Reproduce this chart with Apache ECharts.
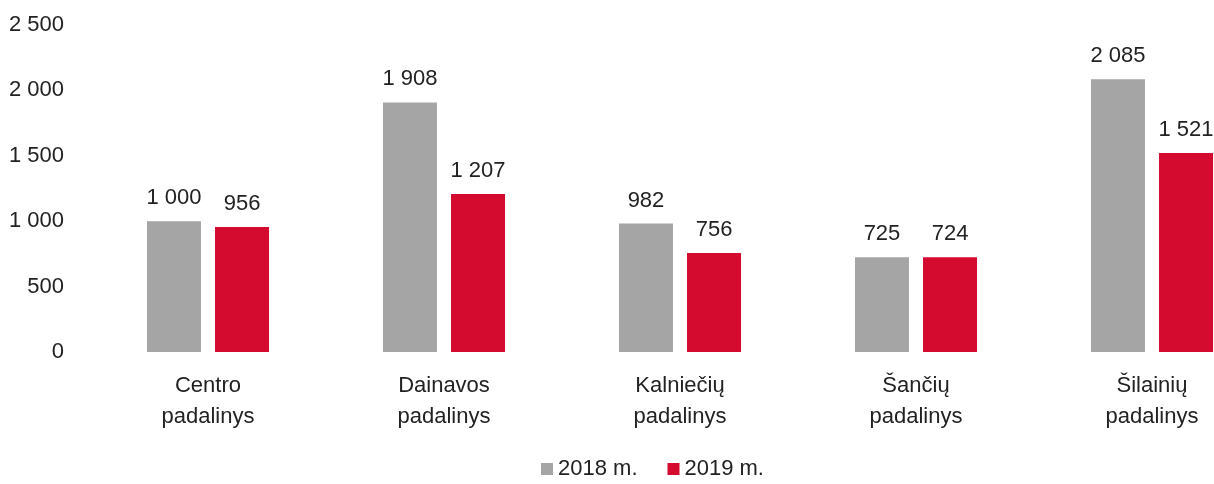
<!DOCTYPE html>
<html>
<head>
<meta charset="utf-8">
<script src="https://cdn.jsdelivr.net/npm/echarts@6/dist/echarts.min.js"></script>
<style>
    html, body { margin: 0; padding: 0; background: #fff; }
    #chart { width: 1214px; height: 484px; }
</style>
</head>
<body>
<div id="chart"></div>
<script>
const categories = [
    'Centro\npadalinys',
    'Dainavos\npadalinys',
    'Kalniečių\npadalinys',
    'Šančių\npadalinys',
    'Šilainių\npadalinys',
];
const values2018 = [1000, 1908, 982, 725, 2085];
const values2019 = [956, 1207, 756, 724, 1521];
const seriesNames = ['2018 m.', '2019 m.'];

const font = 'Liberation Sans, Arial, sans-serif';
const fmt = v => String(v).replace(/\B(?=(\d{3})+(?!\d))/g, ' ');

const chart = echarts.init(document.getElementById('chart'), null, {renderer: 'canvas'});

const barCommon = {
    type: 'bar',
    barWidth: 54,
    barGap: '26%',
    animation: false,
    label: {
        show: true,
        position: 'top',
        distance: 12,
        color: '#222',
        fontFamily: font,
        fontSize: 22,
        formatter: p => fmt(p.value),
    },
};

chart.setOption({
    // the right-hand category runs past the edge of the picture, as in the scan
    grid: {left: 90, top: 25, width: 1180, height: 327, outerBoundsMode: 'none'},
    legend: {
        top: 453,
        left: 536,
        itemWidth: 12,
        itemHeight: 12,
        itemGap: 30,
        icon: 'rect',
        textStyle: {fontFamily: font, fontSize: 22, color: '#222'},
        data: seriesNames,
    },
    xAxis: {
        type: 'category',
        data: categories,
        axisLine: {show: false},
        axisTick: {show: false},
        axisLabel: {
            fontFamily: font,
            fontSize: 22,
            color: '#222',
            lineHeight: 31,
            margin: 18,
        },
    },
    yAxis: {
        type: 'value',
        min: 0,
        max: 2500,
        interval: 500,
        splitLine: {show: false},
        axisLine: {show: false},
        axisTick: {show: false},
        axisLabel: {
            fontFamily: font,
            fontSize: 22,
            color: '#222',
            margin: 26,
            formatter: v => fmt(v),
        },
    },
    series: [
        {...barCommon, name: seriesNames[0], data: values2018, itemStyle: {color: '#a5a5a5'}},
        {...barCommon, name: seriesNames[1], data: values2019, itemStyle: {color: '#d40a2f'}},
    ],
});
</script>
</body>
</html>
